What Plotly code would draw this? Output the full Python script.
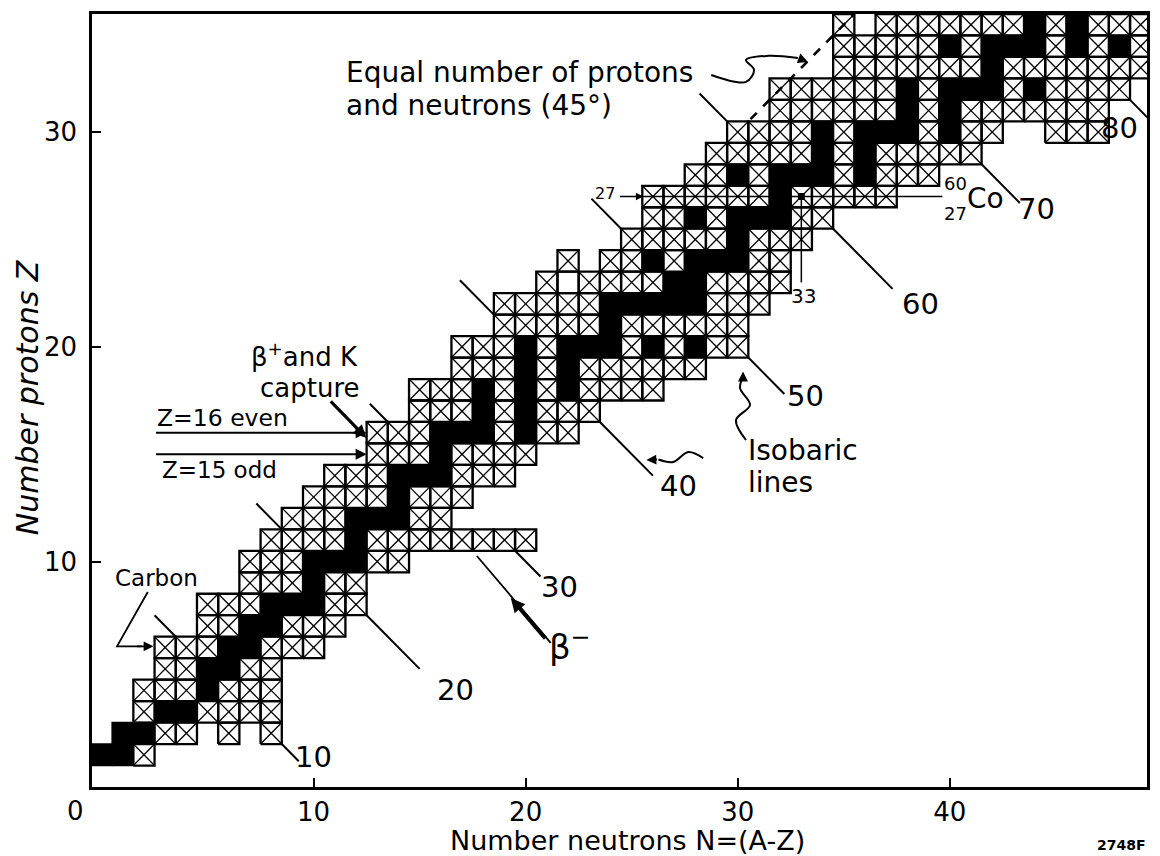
import plotly.graph_objects as go

# ---- chart of the light nuclides: one row per proton number Z ----
Z_ROWS = list(range(1, 36))
N_FIRST = [0, 1, 2, 2, 3, 3, 5, 5, 7, 7,
           8, 9, 10, 11, 13, 13, 15, 15, 17, 17,
           19, 19, 21, 22, 25, 26, 26, 28, 29, 30,
           32, 32, 35, 35, 35]
N_LAST = [2, 8, 8, 8, 8, 10, 11, 12, 12, 14,
          20, 16, 17, 19, 20, 22, 23, 26, 28, 30,
          30, 31, 32, 32, 33, 34, 37, 39, 41, 47,
          47, 48, 49, 49, 49]
N_MISSING = [[], [5, 7], [], [], [], [], [], [], [], [],
             [], [], [], [], [], [], [], [], [], [],
             [], [], [], [23], [], [], [], [], [], [43, 44],
             [], [], [], [], [36]]
N_STABLE = [[0, 1], [1, 2], [3, 4], [5], [5, 6], [6, 7], [7, 8], [8, 9, 10], [10], [10, 11, 12],
            [12], [12, 13, 14], [14], [14, 15, 16], [16], [16, 17, 18, 20], [18, 20], [18, 20, 22],
            [20, 22], [20, 22, 23, 24, 26, 28],
            [24], [24, 25, 26, 27, 28], [27, 28], [26, 28, 29, 30], [30], [28, 30, 31, 32], [32],
            [30, 32, 33, 34, 36], [34, 36], [34, 36, 37, 38, 40],
            [38, 40], [38, 40, 41, 42, 44], [42], [40, 42, 43, 44, 46, 48], [44, 46]]
# boxes drawn without a cross
OPEN_N = [22]
OPEN_Z = [23]
# the marked nuclide 60Co
MARK_N = 33
MARK_Z = 27

# isobars A = const: neutron-rich end cell and proton-rich end cell
ISOBAR_A = [10, 20, 30, 40, 50, 60, 70, 80]
ISOBAR_LOW_N = [8, 12, 19, 23, 30, 34, 41, 48]
ISOBAR_TICK = [0.8, 2.5, 1.2, 2.5, 1.7, 2.8, 1.8, 1.1]
ISOBAR_LABEL_N = [10.0, 16.7, 21.6, 27.2, 33.2, 38.6, 44.1, 48.0]
ISOBAR_LABEL_Z = [0.9, 4.0, 8.8, 13.5, 17.7, 22.0, 26.4, 30.2]
UPPER_A = [10, 20, 30, 40, 50, 60]
UPPER_N = [4, 9, 14, 19, 25, 30]
UPPER_TICK = [1.0, 1.2, 0.85, 1.6, 1.4, 1.3]

FONT = "DejaVu Sans"

black_x, black_y = [], []
box_x, box_y = [], []
cross_x, cross_y = [], []
open_cells = set(zip(OPEN_N, OPEN_Z))
for z, n0, n1, miss, stab in zip(Z_ROWS, N_FIRST, N_LAST, N_MISSING, N_STABLE):
    for n in range(n0, n1 + 1):
        if n in miss:
            continue
        x0, x1, y0, y1 = n - 0.5, n + 0.5, z - 0.5, z + 0.5
        if n in stab:
            black_x += [x0, x1, x1, x0, x0, None]
            black_y += [y0, y0, y1, y1, y0, None]
            continue
        box_x += [x0, x1, x1, x0, x0, None]
        box_y += [y0, y0, y1, y1, y0, None]
        if (n, z) not in open_cells:
            cross_x += [x0, x1, None, x0, x1, None]
            cross_y += [y0, y1, None, y1, y0, None]

fig = go.Figure()
fig.add_trace(go.Scatter(x=cross_x, y=cross_y, mode="lines",
                         line=dict(color="black", width=1.3), hoverinfo="skip"))
fig.add_trace(go.Scatter(x=box_x, y=box_y, mode="lines",
                         line=dict(color="black", width=2.3), hoverinfo="skip"))
fig.add_trace(go.Scatter(x=black_x, y=black_y, mode="lines", fill="toself",
                         fillcolor="black", line=dict(color="black", width=1.5),
                         hoverinfo="skip"))

# isobar ticks at both ends of each line of constant A
iso_x, iso_y = [], []
for a, n, d in zip(ISOBAR_A, ISOBAR_LOW_N, ISOBAR_TICK):
    z = a - n
    iso_x += [n + 0.5, n + 0.5 + d, None]
    iso_y += [z - 0.5, z - 0.5 - d, None]
for a, n, d in zip(UPPER_A, UPPER_N, UPPER_TICK):
    z = a - n
    iso_x += [n - 0.5, n - 0.5 - d, None]
    iso_y += [z + 0.5, z + 0.5 + d, None]
fig.add_trace(go.Scatter(x=iso_x, y=iso_y, mode="lines",
                         line=dict(color="black", width=2), hoverinfo="skip"))

# N = Z line
fig.add_trace(go.Scatter(x=[30.6, 35.5], y=[30.6, 35.5], mode="lines",
                         line=dict(color="black", width=2.6, dash="dash"),
                         hoverinfo="skip"))

# lines meeting at 60Co
fig.add_trace(go.Scatter(x=[25.5, MARK_N, None, MARK_N, 39.65, None, MARK_N, MARK_N],
                         y=[MARK_Z, MARK_Z, None, MARK_Z, MARK_Z, None, MARK_Z, 23.0],
                         mode="lines", line=dict(color="black", width=1.5),
                         hoverinfo="skip"))
fig.add_trace(go.Scatter(x=[MARK_N], y=[MARK_Z], mode="markers",
                         marker=dict(symbol="square", size=7, color="black"),
                         hoverinfo="skip"))

# curly leaders
fig.add_trace(go.Scatter(x=[28.75, 30.39, 30.77, 30.39, 31.43, 32.84],
                         y=[32.66, 32.34, 32.90, 33.36, 33.55, 33.45],
                         mode="lines", line=dict(color="black", width=2, shape="spline"),
                         hoverinfo="skip"))
fig.add_trace(go.Scatter(x=[28.37, 27.67, 26.96, 26.26],
                         y=[14.82, 15.10, 14.64, 14.75],
                         mode="lines", line=dict(color="black", width=2, shape="spline"),
                         hoverinfo="skip"))
fig.add_trace(go.Scatter(x=[30.39, 29.92, 30.58, 30.11, 30.25],
                         y=[15.66, 16.59, 17.29, 18.08, 18.6],
                         mode="lines", line=dict(color="black", width=2, shape="spline"),
                         hoverinfo="skip"))
# Carbon bracket and beta- stem
fig.add_trace(go.Scatter(x=[2.18, 0.73, 1.9, None, 17.70, 21.18],
                         y=[8.58, 6.05, 6.05, None, 10.26, 6.21],
                         mode="lines", line=dict(color="black", width=1.8),
                         hoverinfo="skip"))

ann = []


def text(t, n, z, size, xanchor="center", **kw):
    ann.append(dict(text=t, x=n, y=z, xref="x", yref="y",
                    showarrow=False, xanchor=xanchor, yanchor="middle",
                    font=dict(family=FONT, size=size, color="black"), **kw))


def paper_text(t, x, y, size, **kw):
    ann.append(dict(text=t, x=x, y=y, xref="paper", yref="paper",
                    showarrow=False, xanchor="center", yanchor="middle",
                    font=dict(family=FONT, size=size, color="black"), **kw))


def arrow(n, z, an, az, width=2, head=2, size=1.0):
    ann.append(dict(text="", x=n, y=z, ax=an, ay=az, xref="x", yref="y",
                    axref="x", ayref="y", showarrow=True, arrowhead=head,
                    arrowsize=size, arrowwidth=width, arrowcolor="black"))


for a, n, z in zip(ISOBAR_A, ISOBAR_LABEL_N, ISOBAR_LABEL_Z):
    text(str(a), n, z, 29)

text("Equal number of protons", 11.44, 32.76, 28, xanchor="left")
text("and neutrons (45°)", 11.44, 31.22, 28, xanchor="left")
text("Isobaric", 30.39, 15.15, 28, xanchor="left")
text("lines", 30.39, 13.66, 28, xanchor="left")
text("Z=16 even", 2.51, 16.69, 23.5, xanchor="left")
text("Z=15 odd", 2.75, 14.26, 23, xanchor="left")
text("Carbon", 2.61, 9.23, 23)
text("β<sup>+</sup>and K", 9.56, 19.6, 26)
text("capture", 9.85, 18.1, 26)
text("β<sup>−</sup>", 22.1, 6.1, 34)
text("27", 23.76, 27.12, 16)
text("33", 33.12, 22.37, 20)
text("60", 40.27, 27.59, 18)
text("27", 40.27, 26.23, 18)
text("Co", 41.68, 26.89, 28)

arrow(12.5, 16, 2.5, 16, width=2, size=1.1)
arrow(12.5, 15, 2.5, 15, width=2, size=1.1)
arrow(2.45, 6.05, 1.6, 6.05, width=1.8, size=1.1)
arrow(12.48, 15.76, 10.74, 17.53, width=3.2, size=0.8)
arrow(19.3, 8.3, 20.99, 6.35, width=4, size=0.7)
arrow(25.55, 27, 24.37, 27, width=1.5, size=1.0)
arrow(33.31, 33.27, 32.84, 33.45, width=2, size=1.0)
arrow(25.69, 14.73, 26.26, 14.75, width=2, size=1.0)
arrow(30.25, 18.85, 30.25, 18.55, width=2, size=1.0)

paper_text("0", -0.016, -0.031, 26)
paper_text("Number neutrons N=(A-Z)", 0.5076, -0.0686, 27)
paper_text("<i>Number protons Z</i>", -0.0614, 0.5045, 30, textangle=-90)
paper_text("<b>2748F</b>", 0.976, -0.075, 14)

axis_common = dict(showline=True, linewidth=2.5, linecolor="black", mirror=True,
                   ticks="inside", ticklen=9, tickwidth=2, tickcolor="black",
                   showgrid=False, zeroline=False,
                   tickfont=dict(family=FONT, size=26, color="black"))
fig.update_layout(
    width=1160, height=856,
    margin=dict(l=92, r=10, t=14, b=69),
    paper_bgcolor="white", plot_bgcolor="white",
    showlegend=False,
    xaxis=dict(range=[-0.45, 49.3], tickvals=[10, 20, 30, 40], ticklabelstandoff=0,
               **axis_common),
    yaxis=dict(range=[-0.5, 35.5], tickvals=[10, 20, 30], ticklabelstandoff=7,
               **axis_common),
    annotations=ann,
)

fig.write_html("out.html")
